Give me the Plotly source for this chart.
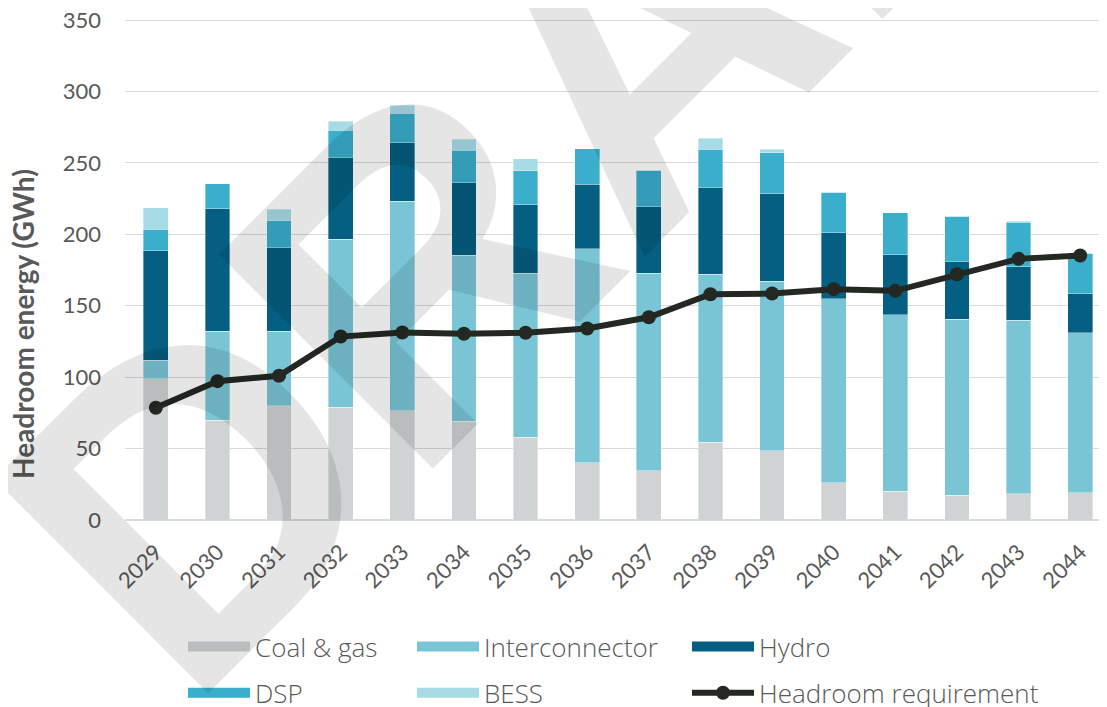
import plotly.graph_objects as go

years = ["2029", "2030", "2031", "2032", "2033", "2034", "2035", "2036",
         "2037", "2038", "2039", "2040", "2041", "2042", "2043", "2044"]
coal_gas = [99, 70, 80, 79, 76.5, 69, 58, 40, 34.6, 54.4, 48.6, 26, 20, 17.3, 18.5, 19.2]
interconnector = [13, 62, 52, 117.5, 146.7, 116.4, 114.7, 150, 138.3, 117.6, 118.5, 129, 123.6, 123.4, 121.2, 111.9]
hydro = [76.5, 86, 58.5, 57.5, 41, 50.8, 48.1, 45, 46.4, 61, 61.4, 46, 42, 40.4, 37.5, 27.4]
dsp = [15, 17.5, 19, 19, 20.7, 22.8, 23.6, 25, 25.5, 26.7, 28.6, 28.6, 29.5, 31.5, 31.3, 28.4]
bess = [15, 0, 8, 6, 5.5, 7.5, 8.6, 0, 0, 7.7, 2.6, 0, 0, 0, 0.7, 0]
headroom_req = [78.6, 97.2, 101, 128.4, 131.3, 130.4, 131.1, 134, 141.9, 158, 158.5, 161.6, 160.4, 172, 182.8, 185.2]
y_ticks = [0, 50, 100, 150, 200, 250, 300, 350]

series = [
    ("Coal & gas", coal_gas, "#cfd3d4", "legend"),
    ("Interconnector", interconnector, "#7ac5d5", "legend2"),
    ("Hydro", hydro, "#055f82", "legend3"),
    ("DSP", dsp, "#3aaecb", "legend"),
    ("BESS", bess, "#a7dce7", "legend2"),
]

W, H = 1107, 707
OFF = 8  # page body margin
L, R, T, B = 117, 4, 9, 195
pw, ph = W - L - R, H - T - B
y_top = ph / (500 / 350)  # keep 350 units = 500 px, with 350 slightly inside the plot


def px_x(sx):
    # screen x -> paper x
    return (sx - OFF - L) / pw


def px_y(sy):
    # screen y -> paper y
    return (T + ph - (sy - OFF)) / ph


fig = go.Figure()
for name, vals, col, lg in series:
    fig.add_trace(go.Bar(
        x=years, y=vals, name=name,
        marker=dict(color=col, line=dict(color="rgba(255,255,255,0.6)", width=0.6)),
        showlegend=False, hoverinfo="x+y+name"))

# legend entries (wide swatches)
for name, vals, col, lg in series:
    fig.add_trace(go.Scatter(
        x=[years[0]], y=[None], mode="lines", name=name,
        line=dict(color=col, width=10.5), legend=lg, legendgroup=name,
        showlegend=True, hoverinfo="skip"))

fig.add_trace(go.Scatter(
    x=years, y=headroom_req, name="Headroom requirement", mode="lines+markers",
    line=dict(color="#232823", width=6), marker=dict(color="#232823", size=14),
    legend="legend3", legendgroup="req"))

font_main = "Lato, 'Open Sans', sans-serif"
font_leg = "'Open Sans', Lato, sans-serif"
leg_common = dict(orientation="v", traceorder="grouped", tracegroupgap=9.5,
                  font=dict(family=font_leg, size=26, color="#595959", weight=300),
                  bgcolor="rgba(0,0,0,0)", borderwidth=0, itemwidth=62,
                  xanchor="left", yanchor="top")
leg_top = px_y(623)

fig.update_layout(
    width=W, height=H,
    margin=dict(l=L, r=R, t=T, b=B, autoexpand=False),
    paper_bgcolor="white", plot_bgcolor="white",
    barmode="stack", bargap=0.6,
    font=dict(family=font_main, color="#595959"),
    xaxis=dict(type="category", range=[-0.5, 15.5], tickangle=-45,
               tickfont=dict(size=22, color="#595959"), showgrid=False,
               showline=False, ticks="", ticklabelstandoff=14, automargin=False),
    yaxis=dict(range=[0, y_top], tickmode="array", tickvals=y_ticks,
               showgrid=True, gridcolor="#d9d9d9", gridwidth=1,
               zeroline=True, zerolinecolor="#d9d9d9", zerolinewidth=1.5,
               tickfont=dict(size=22, color="#595959"), ticks="", ticklabelstandoff=23,
               ticklabeloverflow="allow", automargin=False),
    legend=dict(leg_common, x=px_x(183), y=leg_top),
    legend2=dict(leg_common, x=px_x(412), y=leg_top),
    legend3=dict(leg_common, x=px_x(687), y=leg_top),
    showlegend=True,
)

# y-axis title as annotation (offset from centre like the reference)
fig.add_annotation(text="<b>Headroom energy (GWh)</b>", textangle=-90,
                   xref="paper", yref="paper", x=px_x(23), y=px_y(324),
                   showarrow=False, xanchor="center", yanchor="middle",
                   font=dict(family=font_main, size=28, color="#595959"))

# DRAFT watermark
fig.add_annotation(text="<b>DRAFT</b>", textangle=-45,
                   xref="paper", yref="paper", x=px_x(606), y=px_y(79),
                   showarrow=False, xanchor="center", yanchor="middle",
                   font=dict(family="'Liberation Sans', Arial, sans-serif", size=440,
                             color="rgba(0,0,0,0.10)"))

fig.write_html("out.html")
